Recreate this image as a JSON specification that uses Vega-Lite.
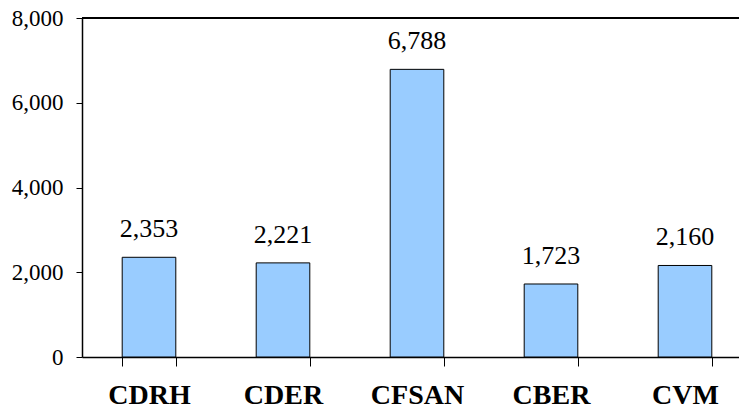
{
  "$schema": "https://vega.github.io/schema/vega-lite/v6.json",
  "autosize": "none",
  "width": 657,
  "height": 339,
  "padding": {"left": 82, "top": 18, "right": 0, "bottom": 54},
  "background": "white",
  "config": {"view": {"stroke": null}, "font": "Liberation Serif"},
  "data": {"values": [
    {"center": "CDRH", "count": 2353},
    {"center": "CDER", "count": 2221},
    {"center": "CFSAN", "count": 6788},
    {"center": "CBER", "count": 1723},
    {"center": "CVM", "count": 2160}
  ]},
  "layer": [
    {
      "mark": {"type": "bar", "fill": "#99CCFF", "stroke": "#000000", "strokeWidth": 1},
      "encoding": {
        "x": {"field": "center", "type": "nominal", "sort": null,
          "scale": {"range": [0, 670], "paddingInner": 0.6, "paddingOuter": 0.3},
          "axis": {"title": null, "labelAngle": 0, "labelFont": "Liberation Serif", "labelFontSize": 28, "labelFontWeight": "bold", "labelColor": "#000000",
            "tickBand": "extent", "tickSize": 9, "tickColor": "#000000", "tickWidth": 1, "domainColor": "#000000", "domainWidth": 1.5, "labelPadding": 15}},
        "y": {"field": "count", "type": "quantitative",
          "scale": {"domain": [0, 8000]},
          "axis": {"title": null, "values": [0, 2000, 4000, 6000, 8000], "format": ",d", "grid": false,
            "labelFont": "Liberation Serif", "labelFontSize": 23, "labelColor": "#000000", "tickSize": 6, "tickColor": "#000000",
            "domainColor": "#000000", "domainWidth": 1.5, "labelPadding": 13}}
      }
    },
    {
      "mark": {"type": "text", "dy": -20, "baseline": "alphabetic", "font": "Liberation Serif", "fontSize": 26, "color": "#000000"},
      "encoding": {
        "x": {"field": "center", "type": "nominal", "sort": null},
        "y": {"field": "count", "type": "quantitative"},
        "text": {"field": "count", "type": "quantitative", "format": ",d"}
      }
    },
    {
      "mark": {"type": "rule", "color": "#000000", "strokeWidth": 1.5},
      "encoding": {"y": {"datum": 8000}}
    }
  ]
}
